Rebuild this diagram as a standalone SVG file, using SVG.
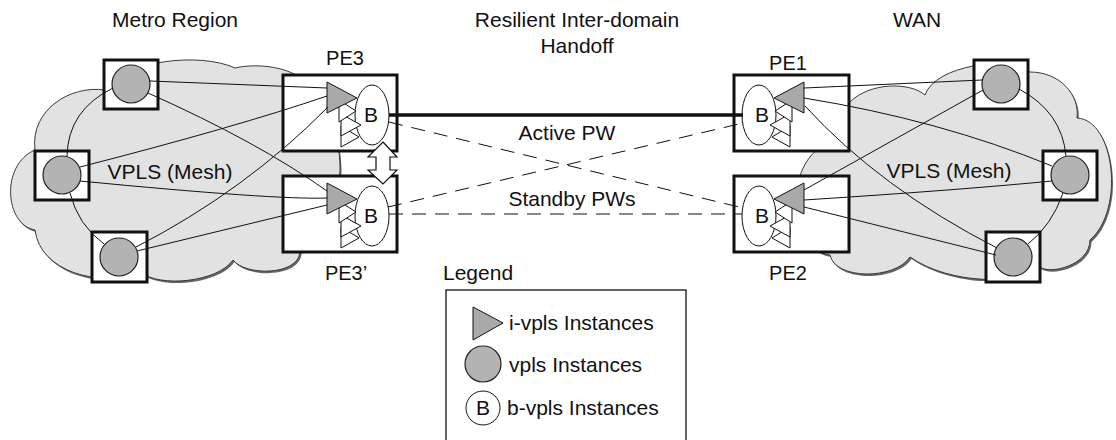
<svg xmlns="http://www.w3.org/2000/svg" width="1116" height="440" viewBox="0 0 1116 440">
<style>
text{font-family:"Liberation Sans",Arial,sans-serif;font-size:21px;fill:#111}
.m{text-anchor:middle}
.cloud{fill:#e2e2e2;stroke:#3a3a3a;stroke-width:1}
.shadow{fill:#666}
.sq{fill:#fff;stroke:#111;stroke-width:3}
.vc{fill:#b3b3b3;stroke:#222;stroke-width:1.2}
.box{fill:#fff;stroke:#111;stroke-width:3}
.ell{fill:#fff;stroke:#111;stroke-width:1}
.tri{fill:#a9a9a9;stroke:#111;stroke-width:1}
.wt{fill:#fff;stroke:#111;stroke-width:1}
.ln{fill:none;stroke:#111;stroke-width:1}
.dash{fill:none;stroke:#111;stroke-width:1;stroke-dasharray:14 9}
</style>
<defs>
<path id="lcloud" d="M35,230 C5,225 0,165 35,150 C30,110 70,85 105,90 C125,60 200,52 235,68 C270,60 320,75 305,100 C350,110 355,220 300,252 C298,276 245,276 233,260 C218,282 160,288 140,272 C100,288 40,272 35,230 Z"/>
<path id="rcloud" d="M850,102 C870,82 910,82 925,95 C935,65 1010,55 1030,72 C1060,72 1080,95 1077,118 C1115,120 1125,210 1090,240 C1090,265 1050,275 1040,267 C1020,285 950,285 910,257 C895,280 835,280 830,255 C790,250 785,175 817,150 C812,120 830,100 850,102 Z"/>
<g id="pe-inner">
<ellipse class="ell" cx="372" cy="0" rx="17" ry="30"/>
<polygon class="wt" points="341,11 341,32 359,22"/>
<polygon class="wt" points="341,-1 341,21 361,10"/>
<polygon class="wt" points="339,-15 339,7 356,-4"/>
<polygon class="tri" points="327,-33 327,-2 357,-17"/>
</g>
</defs>

<g id="clouds">
<use href="#lcloud" class="shadow" transform="translate(1.5,2)"/>
<use href="#lcloud" class="cloud"/>
<use href="#rcloud" class="shadow" transform="translate(1.5,2)"/>
<use href="#rcloud" class="cloud"/>
</g>

<g id="titles">
<text class="m" x="175" y="27">Metro Region</text>
<text class="m" x="577" y="27">Resilient Inter-domain</text>
<text class="m" x="577" y="53">Handoff</text>
<text class="m" x="917" y="27">WAN</text>
<text class="m" x="170" y="179">VPLS (Mesh)</text>
<text class="m" x="949" y="178">VPLS (Mesh)</text>
<text class="m" x="567" y="140">Active PW</text>
<text class="m" x="572" y="206">Standby PWs</text>
</g>

<g id="vpls-l1"><rect class="sq" x="104" y="60" width="54" height="49"/><circle class="vc" cx="131" cy="84" r="19"/></g>
<g id="vpls-l2"><rect class="sq" x="35" y="151" width="54" height="49"/><circle class="vc" cx="62" cy="175" r="19"/></g>
<g id="vpls-l3"><rect class="sq" x="92" y="232" width="55" height="50"/><circle class="vc" cx="119" cy="257" r="19"/></g>
<g id="vpls-r1"><rect class="sq" x="974" y="60" width="54" height="49"/><circle class="vc" cx="1001" cy="84" r="19"/></g>
<g id="vpls-r2"><rect class="sq" x="1043" y="151" width="54" height="49"/><circle class="vc" cx="1070" cy="175" r="19"/></g>
<g id="vpls-r3"><rect class="sq" x="986" y="232" width="54" height="50"/><circle class="vc" cx="1013" cy="257" r="19"/></g>

<g id="pe3">
<rect class="box" x="283" y="75" width="114" height="76"/>
<use href="#pe-inner" transform="translate(0,115)"/>
<text class="m" x="371" y="122">B</text>
<text class="m" x="345" y="65" style="font-size:20px">PE3</text>
</g>
<g id="pe3p">
<rect class="box" x="283" y="176" width="114" height="76"/>
<use href="#pe-inner" transform="translate(0,216)"/>
<text class="m" x="371" y="223">B</text>
<text class="m" x="346" y="280" style="font-size:20px">PE3’</text>
</g>
<g id="pe1">
<rect class="box" x="734" y="75" width="115" height="76"/>
<use href="#pe-inner" transform="translate(1131,115) scale(-1,1)"/>
<text class="m" x="762" y="122">B</text>
<text class="m" x="788" y="70" style="font-size:20px">PE1</text>
</g>
<g id="pe2">
<rect class="box" x="734" y="176" width="115" height="76"/>
<use href="#pe-inner" transform="translate(1131,216) scale(-1,1)"/>
<text class="m" x="762" y="223">B</text>
<text class="m" x="788" y="280" style="font-size:20px">PE2</text>
</g>

<g id="connectors">
<path class="ln" d="M150,81 L327,88"/>
<path class="ln" d="M80,167 Q236,127 327,96"/>
<path class="ln" d="M136,247 Q245,191 328,107"/>
<path class="ln" d="M148,93 Q258,142 327,191"/>
<path class="ln" d="M80,181 Q276,200 327,198"/>
<path class="ln" d="M137,251 L327,205"/>
<path class="ln" d="M113,88 Q68,110 67,156"/>
<path class="ln" d="M70,193 Q78,225 104,244"/>
<path class="ln" d="M804,88 L982,80"/>
<path class="ln" d="M804,98 Q940,120 1052,166"/>
<path class="ln" d="M805,106 Q880,188 997,248"/>
<path class="ln" d="M804,190 L983,90"/>
<path class="ln" d="M804,200 Q960,190 1052,181"/>
<path class="ln" d="M804,207 L996,255"/>
<path class="ln" d="M1019,89 Q1062,112 1066,156"/>
<path class="ln" d="M1063,193 Q1052,225 1028,244"/>
<path fill="none" stroke="#111" stroke-width="3.5" d="M389,115 L743,115"/>
<path class="dash" d="M389,122 L743,208"/>
<path class="dash" d="M388,207 L743,123"/>
<path class="dash" d="M389,214 L742,214"/>
<polygon fill="#fff" stroke="#111" stroke-width="1.2" points="383,142 397,157 390,157 390,170 397,170 383,184 368,170 376,170 376,157 368,157"/>
</g>

<g id="legend">
<text x="443" y="280">Legend</text>
<rect x="446" y="290" width="240" height="160" fill="#fff" stroke="#111" stroke-width="1.3"/>
<polygon class="tri" points="473,307 473,340 503,323"/>
<text x="509" y="330">i-vpls Instances</text>
<circle class="vc" cx="483" cy="364" r="18"/>
<text x="509" y="372">vpls Instances</text>
<circle cx="483" cy="408" r="17" fill="#fff" stroke="#111" stroke-width="1"/>
<text class="m" x="483" y="415">B</text>
<text x="507" y="415">b-vpls Instances</text>
</g>
</svg>
